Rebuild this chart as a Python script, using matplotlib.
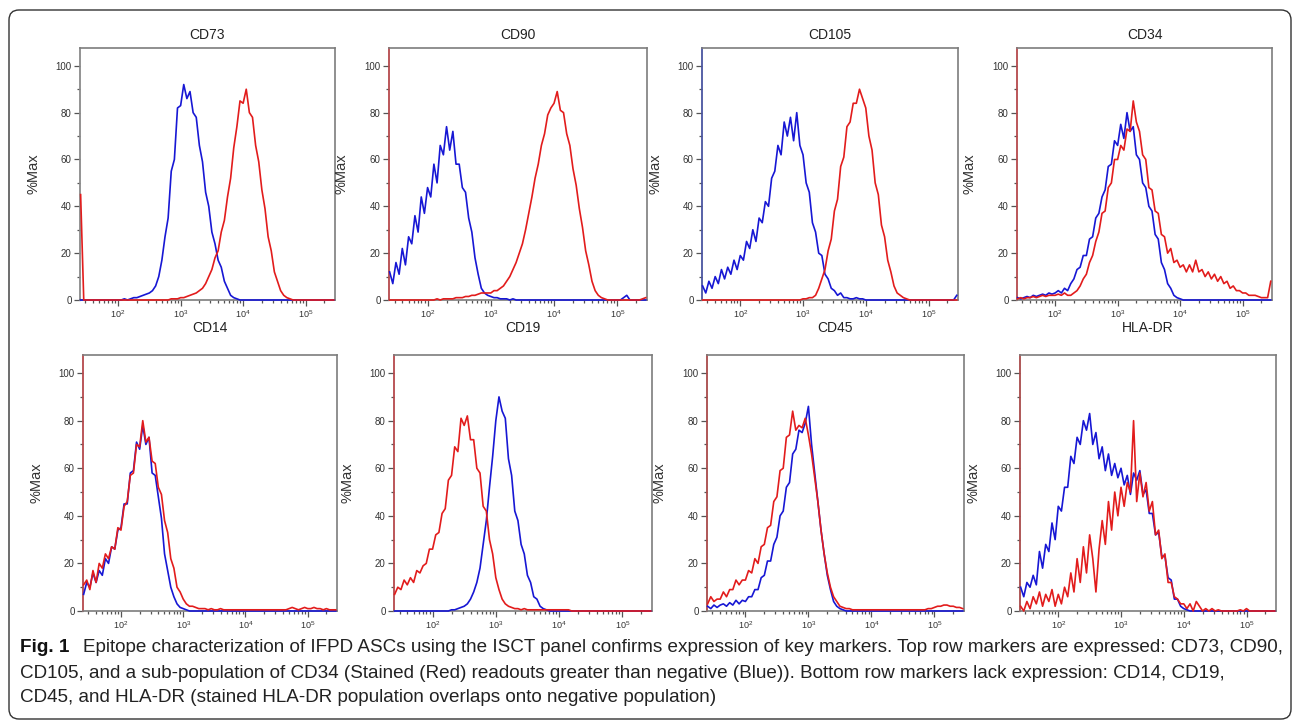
import numpy as np
import matplotlib.pyplot as plt
from matplotlib.patches import FancyBboxPatch
from matplotlib.transforms import IdentityTransform
from matplotlib.ticker import FixedLocator, LogLocator, LogFormatterMathtext, NullFormatter

plt.rcParams['font.family'] = ['Liberation Sans', 'DejaVu Sans']
plt.rcParams['mathtext.default'] = 'regular'

W, H = 1293, 724

# histogram channels: log10(intensity) from 1.40 to 5.45, step 0.05 (82 bins)
log_channels = np.round(1.40 + 0.05 * np.arange(82), 2)

# rows: 1.40-1.95 | 2.00-2.95 | 3.00-3.95 | 4.00-4.95 | 5.00-5.45
# blue = unstained (negative), red = stained
cd73_neg = [0, 0, 0, 0, 0, 0, 0, 0, 0, 0, 0, 0,
            0, 0, 0.5, 0, 0.5, 1, 1, 1.5, 2, 2.5, 3, 4, 6, 10, 17, 27, 35, 55, 60, 82,
            83, 92, 86, 89, 80, 78, 66, 59, 46, 40, 29, 24, 17, 14, 8, 5, 2, 1, 0.5, 0,
            0, 0, 0, 0, 0, 0, 0, 0, 0, 0, 0, 0, 0, 0, 0, 0, 0, 0, 0, 0,
            0, 0, 0, 0, 0, 0, 0, 0, 0, 0]
cd73_pos = [45, 0, 0, 0, 0, 0, 0, 0, 0, 0, 0, 0,
            0, 0, 0, 0, 0, 0, 0, 0, 0, 0, 0, 0, 0, 0, 0, 0, 0, 0.5, 0.5, 0.5,
            1, 1, 1.5, 2, 2.5, 3, 4, 5, 7, 10, 13, 18, 21, 29, 34, 44, 52, 65, 74, 85,
            84, 90, 80, 78, 66, 59, 47, 39, 27, 21, 12, 8, 4, 2, 1, 0.5, 0, 0, 0, 0,
            0, 0, 0, 0, 0, 0, 0, 0, 0, 0]

cd90_neg = [12, 7, 16, 11, 22, 15, 27, 24, 36, 29, 44, 37,
            48, 44, 58, 50, 66, 62, 74, 64, 72, 58, 58, 48, 46, 35, 29, 18, 11, 5, 3, 2,
            1.5, 1, 1, 0.5, 0.5, 0.5, 0, 0.5, 0, 0, 0, 0, 0, 0, 0, 0, 0, 0, 0, 0,
            0, 0, 0, 0, 0, 0, 0, 0, 0, 0, 0, 0, 0, 0, 0, 0, 0, 0, 0, 0,
            0, 0, 1, 2, 0, 0, 0, 0, 0, 0]
cd90_pos = [0, 0, 0, 0, 0, 0, 0, 0, 0, 0, 0, 0,
            0, 0, 0, 0.5, 0, 0.5, 0.5, 0.5, 0.5, 1, 1, 1, 1.5, 1.5, 2, 2, 2.5, 3, 3, 3,
            3, 4, 4, 5, 6, 8, 10, 13, 16, 20, 24, 30, 37, 44, 52, 58, 66, 71, 79, 82,
            84, 89, 81, 80, 71, 66, 56, 49, 39, 31, 21, 15, 8, 4, 2, 1, 0.5, 0, 0, 0,
            0, 0, 0, 0, 0, 0, 0, 0, 0.5, 1]

cd105_neg = [6, 3, 8, 5, 10, 7, 13, 9, 14, 11, 17, 13,
             19, 17, 25, 22, 30, 25, 35, 33, 42, 40, 52, 55, 66, 62, 76, 70, 78, 68, 80, 66,
             62, 50, 46, 33, 29, 20, 19, 11, 9, 5, 4, 2, 3, 1, 1, 0.5, 0.5, 1, 0.5, 0.5,
             0, 0, 0, 0, 0, 0, 0, 0, 0, 0, 0, 0, 0, 0, 0, 0, 0, 0, 0, 0,
             0, 0, 0, 0, 0, 0, 0, 0, 0, 2]
cd105_pos = [0, 0, 0, 0, 0, 0, 0, 0, 0, 0, 0, 0,
             0, 0, 0, 0, 0, 0, 0, 0, 0, 0, 0, 0, 0, 0, 0, 0, 0, 0, 0, 0,
             0.5, 0.5, 1, 1, 2, 5, 9, 13, 21, 26, 38, 43, 57, 61, 74, 76, 84, 84, 90, 86,
             82, 70, 64, 50, 45, 32, 27, 17, 12, 6, 3, 2, 1, 0.5, 0, 0, 0, 0, 0, 0,
             0, 0, 0, 0, 0, 0, 0, 0, 0, 0]

cd34_neg = [1, 0.5, 1, 1.5, 1, 2, 1.5, 2, 2.5, 2, 3, 2.5,
            3, 4, 3, 5, 4, 7, 9, 13, 14, 19, 19, 26, 27, 35, 37, 44, 47, 57, 58, 68,
            66, 75, 69, 80, 72, 74, 62, 60, 50, 48, 40, 38, 28, 26, 16, 13, 7, 5, 2, 1,
            0.5, 0, 0, 0, 0, 0, 0, 0, 0, 0, 0, 0, 0, 0, 0, 0, 0, 0, 0, 0,
            0, 0, 0, 0, 0, 0, 0, 0, 0, 0]
cd34_pos = [0.5, 1, 0.5, 1, 1, 1.5, 1, 1.5, 2, 1.5, 2, 2,
            2, 2.5, 2, 3, 2, 2, 3, 4, 6, 9, 11, 16, 19, 25, 29, 37, 38, 48, 50, 60,
            60, 66, 64, 73, 72, 85, 76, 72, 62, 60, 48, 47, 38, 37, 28, 27, 20, 22, 16, 17,
            14, 15, 12, 15, 12, 17, 12, 13, 10, 12, 9, 11, 8, 10, 7, 8, 5, 6, 4, 4,
            3, 3, 2, 2, 2, 1.5, 1, 1, 1, 8]

cd14_neg = [7, 12, 10, 16, 12, 17, 15, 22, 20, 27, 26, 34,
            35, 45, 45, 58, 59, 71, 68, 78, 70, 73, 58, 57, 48, 39, 24, 17, 10, 6, 3, 1.5,
            1, 0.5, 0, 0, 0, 0, 0, 0, 0, 0, 0, 0, 0, 0, 0, 0, 0, 0, 0, 0,
            0, 0, 0, 0, 0, 0, 0, 0, 0, 0, 0, 0, 0, 0, 0, 0, 0, 0, 0, 0,
            0, 0, 0, 0, 0, 0, 0, 0, 0, 0]
cd14_pos = [11, 13, 9, 17, 12, 20, 18, 24, 22, 27, 26, 35,
            34, 44, 46, 57, 58, 70, 69, 80, 71, 73, 63, 62, 52, 49, 38, 33, 22, 18, 10, 8,
            5, 3, 2, 2, 1.5, 1, 1, 1, 0.5, 1, 0.5, 0.5, 1, 0.5, 0.5, 0.5, 0.5, 0.5, 0.5, 0.5,
            0.5, 0.5, 0.5, 0.5, 0.5, 0.5, 0.5, 0.5, 0.5, 0.5, 0.5, 0.5, 0.5, 0.5, 1, 1.5, 1, 0.5, 1, 1.5,
            1, 1, 1.5, 1, 1, 0.5, 1, 0.5, 0.5, 0.5]

cd19_neg = [0, 0, 0, 0, 0, 0, 0, 0, 0, 0, 0, 0,
            0, 0, 0, 0, 0, 0, 0.5, 0.5, 1, 1.5, 2, 3, 5, 8, 12, 18, 28, 38, 52, 65,
            80, 90, 84, 81, 64, 57, 42, 38, 28, 24, 15, 12, 6, 5, 2, 1, 0.5, 0, 0, 0,
            0, 0, 0, 0, 0, 0, 0, 0, 0, 0, 0, 0, 0, 0, 0, 0, 0, 0, 0, 0,
            0, 0, 0, 0, 0, 0, 0, 0, 0, 0]
cd19_pos = [7, 10, 9, 13, 11, 14, 12, 17, 16, 19, 20, 26,
            26, 32, 33, 41, 43, 55, 57, 69, 67, 81, 78, 82, 72, 72, 60, 58, 44, 42, 30, 24,
            14, 9, 5, 3, 2, 1.5, 1, 1, 0.5, 1, 0.5, 0.5, 0.5, 0.5, 0.5, 0.5, 0.5, 0.5, 0.5, 0.5,
            0.5, 0.5, 0.5, 0.5, 0, 0, 0, 0, 0, 0, 0, 0, 0, 0, 0, 0, 0, 0, 0, 0,
            0, 0, 0, 0, 0, 0, 0, 0, 0, 0]

cd45_neg = [2, 1, 2.5, 1.5, 2.5, 3, 2, 3.5, 2.5, 4.5, 3, 4.5,
            4, 6, 6, 9, 9, 14, 15, 21, 21, 28, 31, 40, 42, 52, 54, 66, 68, 76, 75, 79,
            86, 70, 58, 46, 34, 24, 15, 9, 4, 2, 1, 0.5, 0, 0, 0, 0, 0, 0, 0, 0,
            0, 0, 0, 0, 0, 0, 0, 0, 0, 0, 0, 0, 0, 0, 0, 0, 0, 0, 0, 0,
            0, 0, 0, 0, 0, 0, 0, 0, 0, 0]
cd45_pos = [3, 6, 4, 5, 5, 8, 6, 9, 9, 13, 11, 13,
            13, 17, 16, 22, 20, 27, 28, 35, 36, 46, 48, 59, 60, 73, 74, 84, 76, 78, 77, 81,
            74, 66, 56, 46, 34, 24, 16, 10, 6, 4, 2, 1.5, 1, 1, 0.5, 0.5, 0.5, 0.5, 0.5, 0.5,
            0.5, 0.5, 0.5, 0.5, 0.5, 0.5, 0.5, 0.5, 0.5, 0.5, 0.5, 0.5, 0.5, 0.5, 0.5, 0.5, 0.5, 0.5, 1, 1,
            1.5, 2, 2, 2.5, 2.5, 2, 2, 1.5, 1.5, 1]

hla_neg = [10, 6, 12, 10, 15, 11, 25, 18, 28, 25, 37, 30,
           44, 42, 52, 52, 65, 62, 73, 70, 80, 76, 83, 70, 75, 64, 69, 59, 66, 57, 62, 56,
           60, 53, 57, 49, 58, 55, 59, 49, 51, 41, 41, 32, 33, 23, 23, 14, 13, 5, 5, 2,
           1, 0.5, 0, 0, 0, 0, 0, 0, 0, 0, 0, 0, 0, 0, 0, 0, 0, 0, 0, 0,
           0, 0, 0, 0, 0, 0, 0, 0, 0, 0]
hla_pos = [2, 0, 4, 1, 6, 3, 8, 2, 7, 4, 9, 2,
           7, 3, 10, 6, 16, 8, 22, 12, 27, 16, 32, 22, 8, 26, 38, 28, 46, 34, 50, 40,
           52, 44, 54, 50, 80, 46, 58, 48, 54, 42, 46, 32, 34, 22, 24, 12, 12, 6, 5, 3,
           3, 1, 3, 0, 4, 2, 0, 1, 0, 1, 0, 0.5, 0, 0, 0, 0, 0, 0, 0.5, 0,
           1, 0, 0, 0, 0, 0, 0, 0, 0, 0]

titles = ["CD73", "CD90", "CD105", "CD34", "CD14", "CD19", "CD45", "HLA-DR"]
negatives = [cd73_neg, cd90_neg, cd105_neg, cd34_neg, cd14_neg, cd19_neg, cd45_neg, hla_neg]
stained = [cd73_pos, cd90_pos, cd105_pos, cd34_pos, cd14_pos, cd19_pos, cd45_pos, hla_pos]
y_ticks = [0, 20, 40, 60, 80, 100]
x_ticks = [1e2, 1e3, 1e4, 1e5]

caption_bold = "Fig. 1"
caption_lines = [
    "Epitope characterization of IFPD ASCs using the ISCT panel confirms expression of key markers. Top row markers are expressed: CD73, CD90,",
    "CD105, and a sub-population of CD34 (Stained (Red) readouts greater than negative (Blue)). Bottom row markers lack expression: CD14, CD19,",
    "CD45, and HLA-DR (stained HLA-DR population overlaps onto negative population)",
]

# layout in pixels (left, top, right, bottom)
boxes = [(80, 48, 335, 300), (389, 48, 647, 300), (702, 48, 958, 300), (1017, 48, 1272, 300),
         (83, 355, 337, 611), (394, 355, 652, 611), (707, 355, 964, 611), (1020, 355, 1276, 611)]
left_spine = ['#8a8a8a', '#b5494c', '#4a55a0', '#b5494c',
              '#b5494c', '#b5494c', '#a84a4a', '#a84a4a']
BLUE = '#1717d4'
RED = '#e21c1c'
FRAME = '#7d7d7d'

fig = plt.figure(figsize=(W / 100, H / 100), dpi=100)

x = 10 ** log_channels
for i, (l, t, r, b) in enumerate(boxes):
    ax = fig.add_axes([l / W, 1 - b / H, (r - l) / W, (b - t) / H])
    ax.plot(x, negatives[i], color=BLUE, lw=1.2, zorder=3, clip_on=False)
    ax.plot(x, stained[i], color=RED, lw=1.2, zorder=4, clip_on=False)
    ax.set_xscale('log')
    ax.set_xlim(10 ** 1.39, 10 ** 5.47)
    ax.set_ylim(0, 107.6)

    ax.xaxis.set_major_locator(FixedLocator(x_ticks))
    ax.xaxis.set_major_formatter(LogFormatterMathtext())
    ax.xaxis.set_minor_locator(LogLocator(base=10, subs=np.arange(2, 10)))
    ax.xaxis.set_minor_formatter(NullFormatter())
    ax.set_yticks(y_ticks)
    ax.set_yticks([10, 30, 50, 70, 90], minor=True)

    ax.tick_params(which='both', direction='out', color='#555555', width=0.9,
                   labelsize=7, labelcolor='#333333')
    ax.tick_params(axis='y', which='major', length=4.5, pad=1.5)
    ax.tick_params(axis='y', which='minor', length=2)
    ax.tick_params(axis='x', which='major', length=4, pad=2, labelsize=6.5)
    ax.tick_params(axis='x', which='minor', length=2.5)

    for side in ['top', 'right', 'bottom']:
        ax.spines[side].set_color(FRAME)
        ax.spines[side].set_linewidth(1.2)
    ax.spines['left'].set_color(left_spine[i])
    ax.spines['left'].set_linewidth(1.3)

    ax.set_ylabel("%Max", fontsize=10.5, color='#333333')
    ax.yaxis.set_label_coords(-40 / (r - l), 0.5)

    title_y = 35 if t < 100 else 328
    fig.text((l + r) / 2 / W, 1 - title_y / H, titles[i], ha='center', va='center',
             fontsize=10, color='#222222')

# caption, sized so that the first line spans the figure width
cap_fs = 10.8
bold = fig.text(20 / W, 1 - 648 / H, caption_bold, fontsize=cap_fs, weight='bold',
                va='center', color='#111111')
body = [fig.text((83 if k == 0 else 20) / W, 1 - yy / H, line, fontsize=cap_fs,
                 va='center', color='#222222')
        for k, (line, yy) in enumerate(zip(caption_lines, [648, 673, 698]))]
renderer = fig.canvas.get_renderer()
w1 = body[0].get_window_extent(renderer).width
scale = (1287 - 83) / w1
for tx in [bold] + body:
    tx.set_fontsize(cap_fs * scale)

# rounded frame around the figure
frame = FancyBboxPatch((9, 5), 1282, 709, boxstyle="round,pad=0,rounding_size=10",
                       transform=IdentityTransform(), fill=False,
                       edgecolor='#333333', linewidth=1.0)
fig.add_artist(frame)

fig.savefig("out.png", dpi=100)
